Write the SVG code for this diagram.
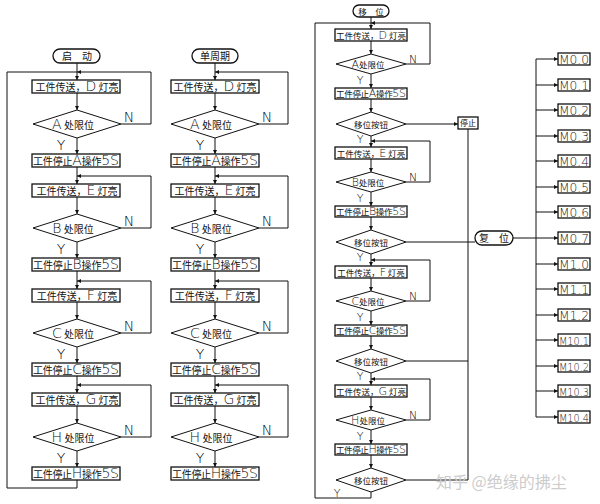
<svg xmlns="http://www.w3.org/2000/svg" width="600" height="504" viewBox="0 0 600 504">
<defs>
<marker id="ar" viewBox="0 0 6 6" refX="6" refY="3" markerWidth="4" markerHeight="4" orient="auto" markerUnits="userSpaceOnUse"><path d="M0,0L6,3L0,6z" fill="#111"/></marker>
<style>
.ln{fill:none;stroke:#111;stroke-width:1}
.bx{fill:#fff;stroke:#111;stroke-width:1.3}
.dm{fill:#fff;stroke:#111;stroke-width:1}
.cn{font-family:"Noto Sans CJK SC","Noto Sans CJK JP",sans-serif;fill:#111}
.c1{font-size:10px}
.c3{font-size:8.5px}
.lt{font-family:"DejaVu Sans","Liberation Sans",sans-serif;font-weight:200}
.L1{font-size:14px}
.L3{font-size:11px}
.yn{font-family:"DejaVu Sans","Liberation Sans",sans-serif;font-weight:200;fill:#000;text-anchor:middle}
.y1{font-size:14px}
.y3{font-size:11px}
.m{font-family:"DejaVu Sans","Liberation Sans",sans-serif;font-weight:200;fill:#222}
.wm{font-family:"Noto Sans CJK SC",sans-serif;font-size:16px;fill:#cccccc}
</style>
</defs>
<rect width="600" height="504" fill="#fff"/>
<g id="connectors">
<path class="ln" d="M77,63V80" marker-end="url(#ar)"/>
<path class="ln" d="M77,93V110" marker-end="url(#ar)"/>
<path class="ln" d="M77,138V154" marker-end="url(#ar)"/>
<path class="ln" d="M121,124H151V72H77" marker-end="url(#ar)"/>
<path class="ln" d="M77,167V184" marker-end="url(#ar)"/>
<path class="ln" d="M77,197V214" marker-end="url(#ar)"/>
<path class="ln" d="M77,242V258" marker-end="url(#ar)"/>
<path class="ln" d="M121,228H151V176H77" marker-end="url(#ar)"/>
<path class="ln" d="M77,271V289" marker-end="url(#ar)"/>
<path class="ln" d="M77,302V319" marker-end="url(#ar)"/>
<path class="ln" d="M77,347V363" marker-end="url(#ar)"/>
<path class="ln" d="M121,333H151V281H77" marker-end="url(#ar)"/>
<path class="ln" d="M77,376V393" marker-end="url(#ar)"/>
<path class="ln" d="M77,406V423" marker-end="url(#ar)"/>
<path class="ln" d="M77,451V467" marker-end="url(#ar)"/>
<path class="ln" d="M121,437H151V385H77" marker-end="url(#ar)"/>
<path class="ln" d="M77,480V488H7V72H77"/>
<path class="ln" d="M215,63V80" marker-end="url(#ar)"/>
<path class="ln" d="M215,93V110" marker-end="url(#ar)"/>
<path class="ln" d="M215,138V154" marker-end="url(#ar)"/>
<path class="ln" d="M259,124H288V72H215" marker-end="url(#ar)"/>
<path class="ln" d="M215,167V184" marker-end="url(#ar)"/>
<path class="ln" d="M215,197V214" marker-end="url(#ar)"/>
<path class="ln" d="M215,242V258" marker-end="url(#ar)"/>
<path class="ln" d="M259,228H288V176H215" marker-end="url(#ar)"/>
<path class="ln" d="M215,271V289" marker-end="url(#ar)"/>
<path class="ln" d="M215,302V319" marker-end="url(#ar)"/>
<path class="ln" d="M215,347V363" marker-end="url(#ar)"/>
<path class="ln" d="M259,333H288V281H215" marker-end="url(#ar)"/>
<path class="ln" d="M215,376V393" marker-end="url(#ar)"/>
<path class="ln" d="M215,406V423" marker-end="url(#ar)"/>
<path class="ln" d="M215,451V467" marker-end="url(#ar)"/>
<path class="ln" d="M259,437H288V385H215" marker-end="url(#ar)"/>
<path class="ln" d="M371,17V29" marker-end="url(#ar)"/>
<path class="ln" d="M371,41V54" marker-end="url(#ar)"/>
<path class="ln" d="M371,74V88" marker-end="url(#ar)"/>
<path class="ln" d="M371,99V112" marker-end="url(#ar)"/>
<path class="ln" d="M406,64H430V23H371" marker-end="url(#ar)"/>
<path class="ln" d="M371,136V147" marker-end="url(#ar)"/>
<path class="ln" d="M371,159V172" marker-end="url(#ar)"/>
<path class="ln" d="M371,192V206" marker-end="url(#ar)"/>
<path class="ln" d="M371,217V230" marker-end="url(#ar)"/>
<path class="ln" d="M406,182H430V141H371" marker-end="url(#ar)"/>
<path class="ln" d="M371,254V266" marker-end="url(#ar)"/>
<path class="ln" d="M371,278V291" marker-end="url(#ar)"/>
<path class="ln" d="M371,311V325" marker-end="url(#ar)"/>
<path class="ln" d="M371,336V349" marker-end="url(#ar)"/>
<path class="ln" d="M406,301H430V260H371" marker-end="url(#ar)"/>
<path class="ln" d="M371,373V385" marker-end="url(#ar)"/>
<path class="ln" d="M371,397V410" marker-end="url(#ar)"/>
<path class="ln" d="M371,430V444" marker-end="url(#ar)"/>
<path class="ln" d="M371,455V468" marker-end="url(#ar)"/>
<path class="ln" d="M406,420H430V379H371" marker-end="url(#ar)"/>
<path class="ln" d="M371,492V498H315V23H371"/>
<path class="ln" d="M406,124H458" marker-end="url(#ar)"/>
<path class="ln" d="M406,242H475"/>
<path class="ln" d="M406,361H468"/>
<path class="ln" d="M406,480H468"/>
<path class="ln" d="M468,129V480"/>
<path class="ln" d="M513,238H536"/>
<path class="ln" d="M536,59V417"/>
<path class="ln" d="M536,59H558" marker-end="url(#ar)"/>
<path class="ln" d="M536,85H558" marker-end="url(#ar)"/>
<path class="ln" d="M536,110H558" marker-end="url(#ar)"/>
<path class="ln" d="M536,136H558" marker-end="url(#ar)"/>
<path class="ln" d="M536,161H558" marker-end="url(#ar)"/>
<path class="ln" d="M536,187H558" marker-end="url(#ar)"/>
<path class="ln" d="M536,212H558" marker-end="url(#ar)"/>
<path class="ln" d="M536,238H558" marker-end="url(#ar)"/>
<path class="ln" d="M536,264H558" marker-end="url(#ar)"/>
<path class="ln" d="M536,289H558" marker-end="url(#ar)"/>
<path class="ln" d="M536,315H558" marker-end="url(#ar)"/>
<path class="ln" d="M536,340H558" marker-end="url(#ar)"/>
<path class="ln" d="M536,366H558" marker-end="url(#ar)"/>
<path class="ln" d="M536,391H558" marker-end="url(#ar)"/>
<path class="ln" d="M536,417H558" marker-end="url(#ar)"/>
<text class="yn y1" x="61" y="150">Y</text><text class="yn y1" x="129" y="122">N</text>
<text class="yn y1" x="61" y="254">Y</text><text class="yn y1" x="129" y="226">N</text>
<text class="yn y1" x="61" y="359">Y</text><text class="yn y1" x="129" y="331">N</text>
<text class="yn y1" x="61" y="463">Y</text><text class="yn y1" x="129" y="435">N</text>
<text class="yn y1" x="200" y="150">Y</text><text class="yn y1" x="267" y="122">N</text>
<text class="yn y1" x="200" y="254">Y</text><text class="yn y1" x="267" y="226">N</text>
<text class="yn y1" x="200" y="359">Y</text><text class="yn y1" x="267" y="331">N</text>
<text class="yn y1" x="200" y="463">Y</text><text class="yn y1" x="267" y="435">N</text>
<text class="yn y3" x="360" y="84">Y</text><text class="yn y3" x="413" y="63">N</text><text class="yn y3" x="360" y="143">Y</text>
<text class="yn y3" x="360" y="202">Y</text><text class="yn y3" x="413" y="181">N</text><text class="yn y3" x="360" y="261">Y</text>
<text class="yn y3" x="360" y="321">Y</text><text class="yn y3" x="413" y="300">N</text><text class="yn y3" x="360" y="380">Y</text>
<text class="yn y3" x="360" y="440">Y</text><text class="yn y3" x="413" y="419">N</text><text class="yn y3" x="337" y="497">Y</text>
</g>

<g id="c1-start"><rect class="bx" x="53" y="49" width="47" height="14" rx="7"/><text class="cn c1" x="77" y="60" text-anchor="middle">启　动</text></g>
<g id="c1-box1"><rect class="bx" x="32" y="80" width="88" height="13"/><text class="cn c1" x="77" y="91" text-anchor="middle">工件传送，<tspan class="lt L1">D</tspan> 灯亮</text></g>
<g id="c1-dia1"><polygon class="dm" points="33,124 77,110 121,124 77,138"/><text class="cn c1" x="73" y="129" text-anchor="middle"><tspan class="lt L1">A</tspan> 处限位</text></g>
<g id="c1-stop1"><rect class="bx" x="32" y="154" width="88" height="13"/><text class="cn c1" x="33" y="165" textLength="86" lengthAdjust="spacing">工件停止<tspan class="lt L1">A</tspan>操作<tspan class="lt L1">5S</tspan></text></g>
<g id="c1-box2"><rect class="bx" x="32" y="184" width="88" height="13"/><text class="cn c1" x="77" y="195" text-anchor="middle">工件传送，<tspan class="lt L1">E</tspan> 灯亮</text></g>
<g id="c1-dia2"><polygon class="dm" points="33,228 77,214 121,228 77,242"/><text class="cn c1" x="73" y="233" text-anchor="middle"><tspan class="lt L1">B</tspan> 处限位</text></g>
<g id="c1-stop2"><rect class="bx" x="32" y="258" width="88" height="13"/><text class="cn c1" x="33" y="269" textLength="86" lengthAdjust="spacing">工件停止<tspan class="lt L1">B</tspan>操作<tspan class="lt L1">5S</tspan></text></g>
<g id="c1-box3"><rect class="bx" x="32" y="289" width="88" height="13"/><text class="cn c1" x="77" y="300" text-anchor="middle">工件传送，<tspan class="lt L1">F</tspan> 灯亮</text></g>
<g id="c1-dia3"><polygon class="dm" points="33,333 77,319 121,333 77,347"/><text class="cn c1" x="73" y="338" text-anchor="middle"><tspan class="lt L1">C</tspan> 处限位</text></g>
<g id="c1-stop3"><rect class="bx" x="32" y="363" width="88" height="13"/><text class="cn c1" x="33" y="374" textLength="86" lengthAdjust="spacing">工件停止<tspan class="lt L1">C</tspan>操作<tspan class="lt L1">5S</tspan></text></g>
<g id="c1-box4"><rect class="bx" x="32" y="393" width="88" height="13"/><text class="cn c1" x="77" y="404" text-anchor="middle">工件传送，<tspan class="lt L1">G</tspan> 灯亮</text></g>
<g id="c1-dia4"><polygon class="dm" points="33,437 77,423 121,437 77,451"/><text class="cn c1" x="73" y="442" text-anchor="middle"><tspan class="lt L1">H</tspan> 处限位</text></g>
<g id="c1-stop4"><rect class="bx" x="32" y="467" width="88" height="13"/><text class="cn c1" x="33" y="478" textLength="86" lengthAdjust="spacing">工件停止<tspan class="lt L1">H</tspan>操作<tspan class="lt L1">5S</tspan></text></g>

<g id="c2-start"><rect class="bx" x="192" y="49" width="46" height="14" rx="7"/><text class="cn c1" x="215" y="60" text-anchor="middle">单周期</text></g>
<g id="c2-box1"><rect class="bx" x="171" y="80" width="88" height="13"/><text class="cn c1" x="215" y="91" text-anchor="middle">工件传送，<tspan class="lt L1">D</tspan> 灯亮</text></g>
<g id="c2-dia1"><polygon class="dm" points="171,124 215,110 259,124 215,138"/><text class="cn c1" x="211" y="129" text-anchor="middle"><tspan class="lt L1">A</tspan> 处限位</text></g>
<g id="c2-stop1"><rect class="bx" x="171" y="154" width="88" height="13"/><text class="cn c1" x="172" y="165" textLength="86" lengthAdjust="spacing">工件停止<tspan class="lt L1">A</tspan>操作<tspan class="lt L1">5S</tspan></text></g>
<g id="c2-box2"><rect class="bx" x="171" y="184" width="88" height="13"/><text class="cn c1" x="215" y="195" text-anchor="middle">工件传送，<tspan class="lt L1">E</tspan> 灯亮</text></g>
<g id="c2-dia2"><polygon class="dm" points="171,228 215,214 259,228 215,242"/><text class="cn c1" x="211" y="233" text-anchor="middle"><tspan class="lt L1">B</tspan> 处限位</text></g>
<g id="c2-stop2"><rect class="bx" x="171" y="258" width="88" height="13"/><text class="cn c1" x="172" y="269" textLength="86" lengthAdjust="spacing">工件停止<tspan class="lt L1">B</tspan>操作<tspan class="lt L1">5S</tspan></text></g>
<g id="c2-box3"><rect class="bx" x="171" y="289" width="88" height="13"/><text class="cn c1" x="215" y="300" text-anchor="middle">工件传送，<tspan class="lt L1">F</tspan> 灯亮</text></g>
<g id="c2-dia3"><polygon class="dm" points="171,333 215,319 259,333 215,347"/><text class="cn c1" x="211" y="338" text-anchor="middle"><tspan class="lt L1">C</tspan> 处限位</text></g>
<g id="c2-stop3"><rect class="bx" x="171" y="363" width="88" height="13"/><text class="cn c1" x="172" y="374" textLength="86" lengthAdjust="spacing">工件停止<tspan class="lt L1">C</tspan>操作<tspan class="lt L1">5S</tspan></text></g>
<g id="c2-box4"><rect class="bx" x="171" y="393" width="88" height="13"/><text class="cn c1" x="215" y="404" text-anchor="middle">工件传送，<tspan class="lt L1">G</tspan> 灯亮</text></g>
<g id="c2-dia4"><polygon class="dm" points="171,437 215,423 259,437 215,451"/><text class="cn c1" x="211" y="442" text-anchor="middle"><tspan class="lt L1">H</tspan> 处限位</text></g>
<g id="c2-stop4"><rect class="bx" x="171" y="467" width="88" height="13"/><text class="cn c1" x="172" y="478" textLength="86" lengthAdjust="spacing">工件停止<tspan class="lt L1">H</tspan>操作<tspan class="lt L1">5S</tspan></text></g>

<g id="c3-start"><rect class="bx" x="353" y="5" width="36" height="12" rx="6"/><text class="cn c3" x="371" y="14.5" text-anchor="middle">移　位</text></g>
<g id="c3-box1"><rect class="bx" x="335" y="29" width="72" height="12"/><text class="cn c3" x="371" y="38.5" text-anchor="middle">工件传送，<tspan class="lt L3">D</tspan> 灯亮</text></g>
<g id="c3-dia1"><polygon class="dm" points="336,64 371,54 406,64 371,74"/><text class="cn c3" x="368" y="68" text-anchor="middle"><tspan class="lt L3">A</tspan>处限位</text></g>
<g id="c3-stop1"><rect class="bx" x="335" y="88" width="72" height="11"/><text class="cn c3" x="336" y="96.5" textLength="70" lengthAdjust="spacing">工件停止<tspan class="lt L3">A</tspan>操作<tspan class="lt L3">5S</tspan></text></g>
<g id="c3-btn1"><polygon class="dm" points="336,124 371,112 406,124 371,136"/><text class="cn c3" x="371" y="127.5" text-anchor="middle">移位按钮</text></g>
<g id="c3-box2"><rect class="bx" x="335" y="147" width="72" height="12"/><text class="cn c3" x="371" y="156.5" text-anchor="middle">工件传送，<tspan class="lt L3">E</tspan> 灯亮</text></g>
<g id="c3-dia2"><polygon class="dm" points="336,182 371,172 406,182 371,192"/><text class="cn c3" x="368" y="186" text-anchor="middle"><tspan class="lt L3">B</tspan>处限位</text></g>
<g id="c3-stop2"><rect class="bx" x="335" y="206" width="72" height="11"/><text class="cn c3" x="336" y="214.5" textLength="70" lengthAdjust="spacing">工件停止<tspan class="lt L3">B</tspan>操作<tspan class="lt L3">5S</tspan></text></g>
<g id="c3-btn2"><polygon class="dm" points="336,242 371,230 406,242 371,254"/><text class="cn c3" x="371" y="245.5" text-anchor="middle">移位按钮</text></g>
<g id="c3-box3"><rect class="bx" x="335" y="266" width="72" height="12"/><text class="cn c3" x="371" y="275.5" text-anchor="middle">工件传送，<tspan class="lt L3">F</tspan> 灯亮</text></g>
<g id="c3-dia3"><polygon class="dm" points="336,301 371,291 406,301 371,311"/><text class="cn c3" x="368" y="305" text-anchor="middle"><tspan class="lt L3">C</tspan>处限位</text></g>
<g id="c3-stop3"><rect class="bx" x="335" y="325" width="72" height="11"/><text class="cn c3" x="336" y="333.5" textLength="70" lengthAdjust="spacing">工件停止<tspan class="lt L3">C</tspan>操作<tspan class="lt L3">5S</tspan></text></g>
<g id="c3-btn3"><polygon class="dm" points="336,361 371,349 406,361 371,373"/><text class="cn c3" x="371" y="364.5" text-anchor="middle">移位按钮</text></g>
<g id="c3-box4"><rect class="bx" x="335" y="385" width="72" height="12"/><text class="cn c3" x="371" y="394.5" text-anchor="middle">工件传送，<tspan class="lt L3">G</tspan> 灯亮</text></g>
<g id="c3-dia4"><polygon class="dm" points="336,420 371,410 406,420 371,430"/><text class="cn c3" x="368" y="424" text-anchor="middle"><tspan class="lt L3">H</tspan>处限位</text></g>
<g id="c3-stop4"><rect class="bx" x="335" y="444" width="72" height="11"/><text class="cn c3" x="336" y="452.5" textLength="70" lengthAdjust="spacing">工件停止<tspan class="lt L3">H</tspan>操作<tspan class="lt L3">5S</tspan></text></g>
<g id="c3-btn4"><polygon class="dm" points="336,480 371,468 406,480 371,492"/><text class="cn c3" x="371" y="483.5" text-anchor="middle">移位按钮</text></g>
<g id="stop"><rect class="bx" x="458" y="117" width="20" height="12"/><text class="cn" font-size="8" x="468" y="126" text-anchor="middle">停止</text></g>

<g id="reset"><rect class="bx" x="475" y="231" width="38" height="14" rx="7"/><text class="cn c1" x="494" y="241.5" text-anchor="middle">复　位</text></g>
<g id="m00"><rect class="bx" x="558" y="53" width="32" height="12"/><text class="m" font-size="12.5" x="559" y="64" textLength="30" lengthAdjust="spacingAndGlyphs">M0.0</text></g>
<g id="m01"><rect class="bx" x="558" y="79" width="32" height="12"/><text class="m" font-size="12.5" x="559" y="90" textLength="30" lengthAdjust="spacingAndGlyphs">M0.1</text></g>
<g id="m02"><rect class="bx" x="558" y="104" width="32" height="12"/><text class="m" font-size="12.5" x="559" y="115" textLength="30" lengthAdjust="spacingAndGlyphs">M0.2</text></g>
<g id="m03"><rect class="bx" x="558" y="130" width="32" height="12"/><text class="m" font-size="12.5" x="559" y="141" textLength="30" lengthAdjust="spacingAndGlyphs">M0.3</text></g>
<g id="m04"><rect class="bx" x="558" y="155" width="32" height="12"/><text class="m" font-size="12.5" x="559" y="166" textLength="30" lengthAdjust="spacingAndGlyphs">M0.4</text></g>
<g id="m05"><rect class="bx" x="558" y="181" width="32" height="12"/><text class="m" font-size="12.5" x="559" y="192" textLength="30" lengthAdjust="spacingAndGlyphs">M0.5</text></g>
<g id="m06"><rect class="bx" x="558" y="206" width="32" height="12"/><text class="m" font-size="12.5" x="559" y="217" textLength="30" lengthAdjust="spacingAndGlyphs">M0.6</text></g>
<g id="m07"><rect class="bx" x="558" y="232" width="32" height="12"/><text class="m" font-size="12.5" x="559" y="243" textLength="30" lengthAdjust="spacingAndGlyphs">M0.7</text></g>
<g id="m10"><rect class="bx" x="558" y="258" width="32" height="12"/><text class="m" font-size="12.5" x="559" y="269" textLength="30" lengthAdjust="spacingAndGlyphs">M1.0</text></g>
<g id="m11"><rect class="bx" x="558" y="283" width="32" height="12"/><text class="m" font-size="12.5" x="559" y="294" textLength="30" lengthAdjust="spacingAndGlyphs">M1.1</text></g>
<g id="m12"><rect class="bx" x="558" y="309" width="32" height="12"/><text class="m" font-size="12.5" x="559" y="320" textLength="30" lengthAdjust="spacingAndGlyphs">M1.2</text></g>
<g id="m101"><rect class="bx" x="558" y="334" width="32" height="12"/><text class="m" font-size="10.5" x="559" y="344.5" textLength="30" lengthAdjust="spacingAndGlyphs">M10.1</text></g>
<g id="m102"><rect class="bx" x="558" y="360" width="32" height="12"/><text class="m" font-size="10.5" x="559" y="370.5" textLength="30" lengthAdjust="spacingAndGlyphs">M10.2</text></g>
<g id="m103"><rect class="bx" x="558" y="385" width="32" height="12"/><text class="m" font-size="10.5" x="559" y="395.5" textLength="30" lengthAdjust="spacingAndGlyphs">M10.3</text></g>
<g id="m104"><rect class="bx" x="558" y="411" width="32" height="12"/><text class="m" font-size="10.5" x="559" y="421.5" textLength="30" lengthAdjust="spacingAndGlyphs">M10.4</text></g>

<text class="wm" x="436" y="488">知乎 @绝缘的拂尘</text>
</svg>
